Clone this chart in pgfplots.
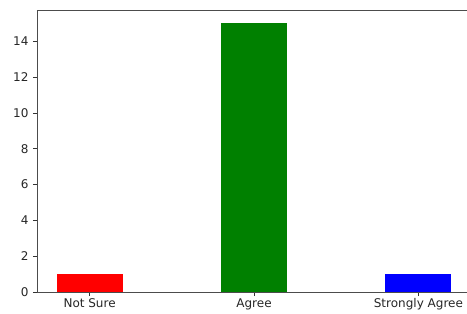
\documentclass[border=0pt]{standalone}
\usepackage{pgfplots}
\pgfplotsset{compat=1.18}
\usepackage{fontspec}
\setmainfont{DejaVu Sans}
\begin{document}
\begin{tikzpicture}
\begin{axis}[
  scale only axis,
  width=434pt, height=282pt,
  xmin=-0.32, xmax=2.32,
  ymin=0, ymax=15.75,
  axis lines=left,
  axis line style={-, black!70, line width=0.9pt},
  xtick={0,1,2},
  xticklabels={Not Sure,Agree,Strongly Agree},
  ytick={0,2,4,6,8,10,12,14},
  tick align=outside,
  major tick length=4pt,
  tick style={black!80, line width=0.8pt},
  /pgf/number format/assume math mode=true,
  tick label style={font=\fontsize{12}{14}\selectfont, text=black!85},
  xticklabel style={yshift=1pt},
  yticklabel style={xshift=-1pt},
  every axis plot/.append style={draw=none},
  clip=false,
]
\addplot[ybar, bar width=66pt, fill={rgb,255:red,255;green,0;blue,0}, bar shift=0pt] coordinates {(0,1)};
\addplot[ybar, bar width=66pt, fill={rgb,255:red,0;green,128;blue,0}, bar shift=0pt] coordinates {(1,15)};
\addplot[ybar, bar width=66pt, fill={rgb,255:red,0;green,0;blue,255}, bar shift=0pt] coordinates {(2,1)};
\draw[black!70, line width=0.9pt] (rel axis cs:0,1) -- (rel axis cs:1,1);
\draw[black!70, line width=0.9pt] (rel axis cs:0,0) -- (rel axis cs:1,0);
\end{axis}
\pgfresetboundingbox
\path[use as bounding box] ([xshift=-37pt,yshift=-21pt]current axis.south west) rectangle ([xshift=-4pt,yshift=10pt]current axis.north east);
\end{tikzpicture}
\end{document}
